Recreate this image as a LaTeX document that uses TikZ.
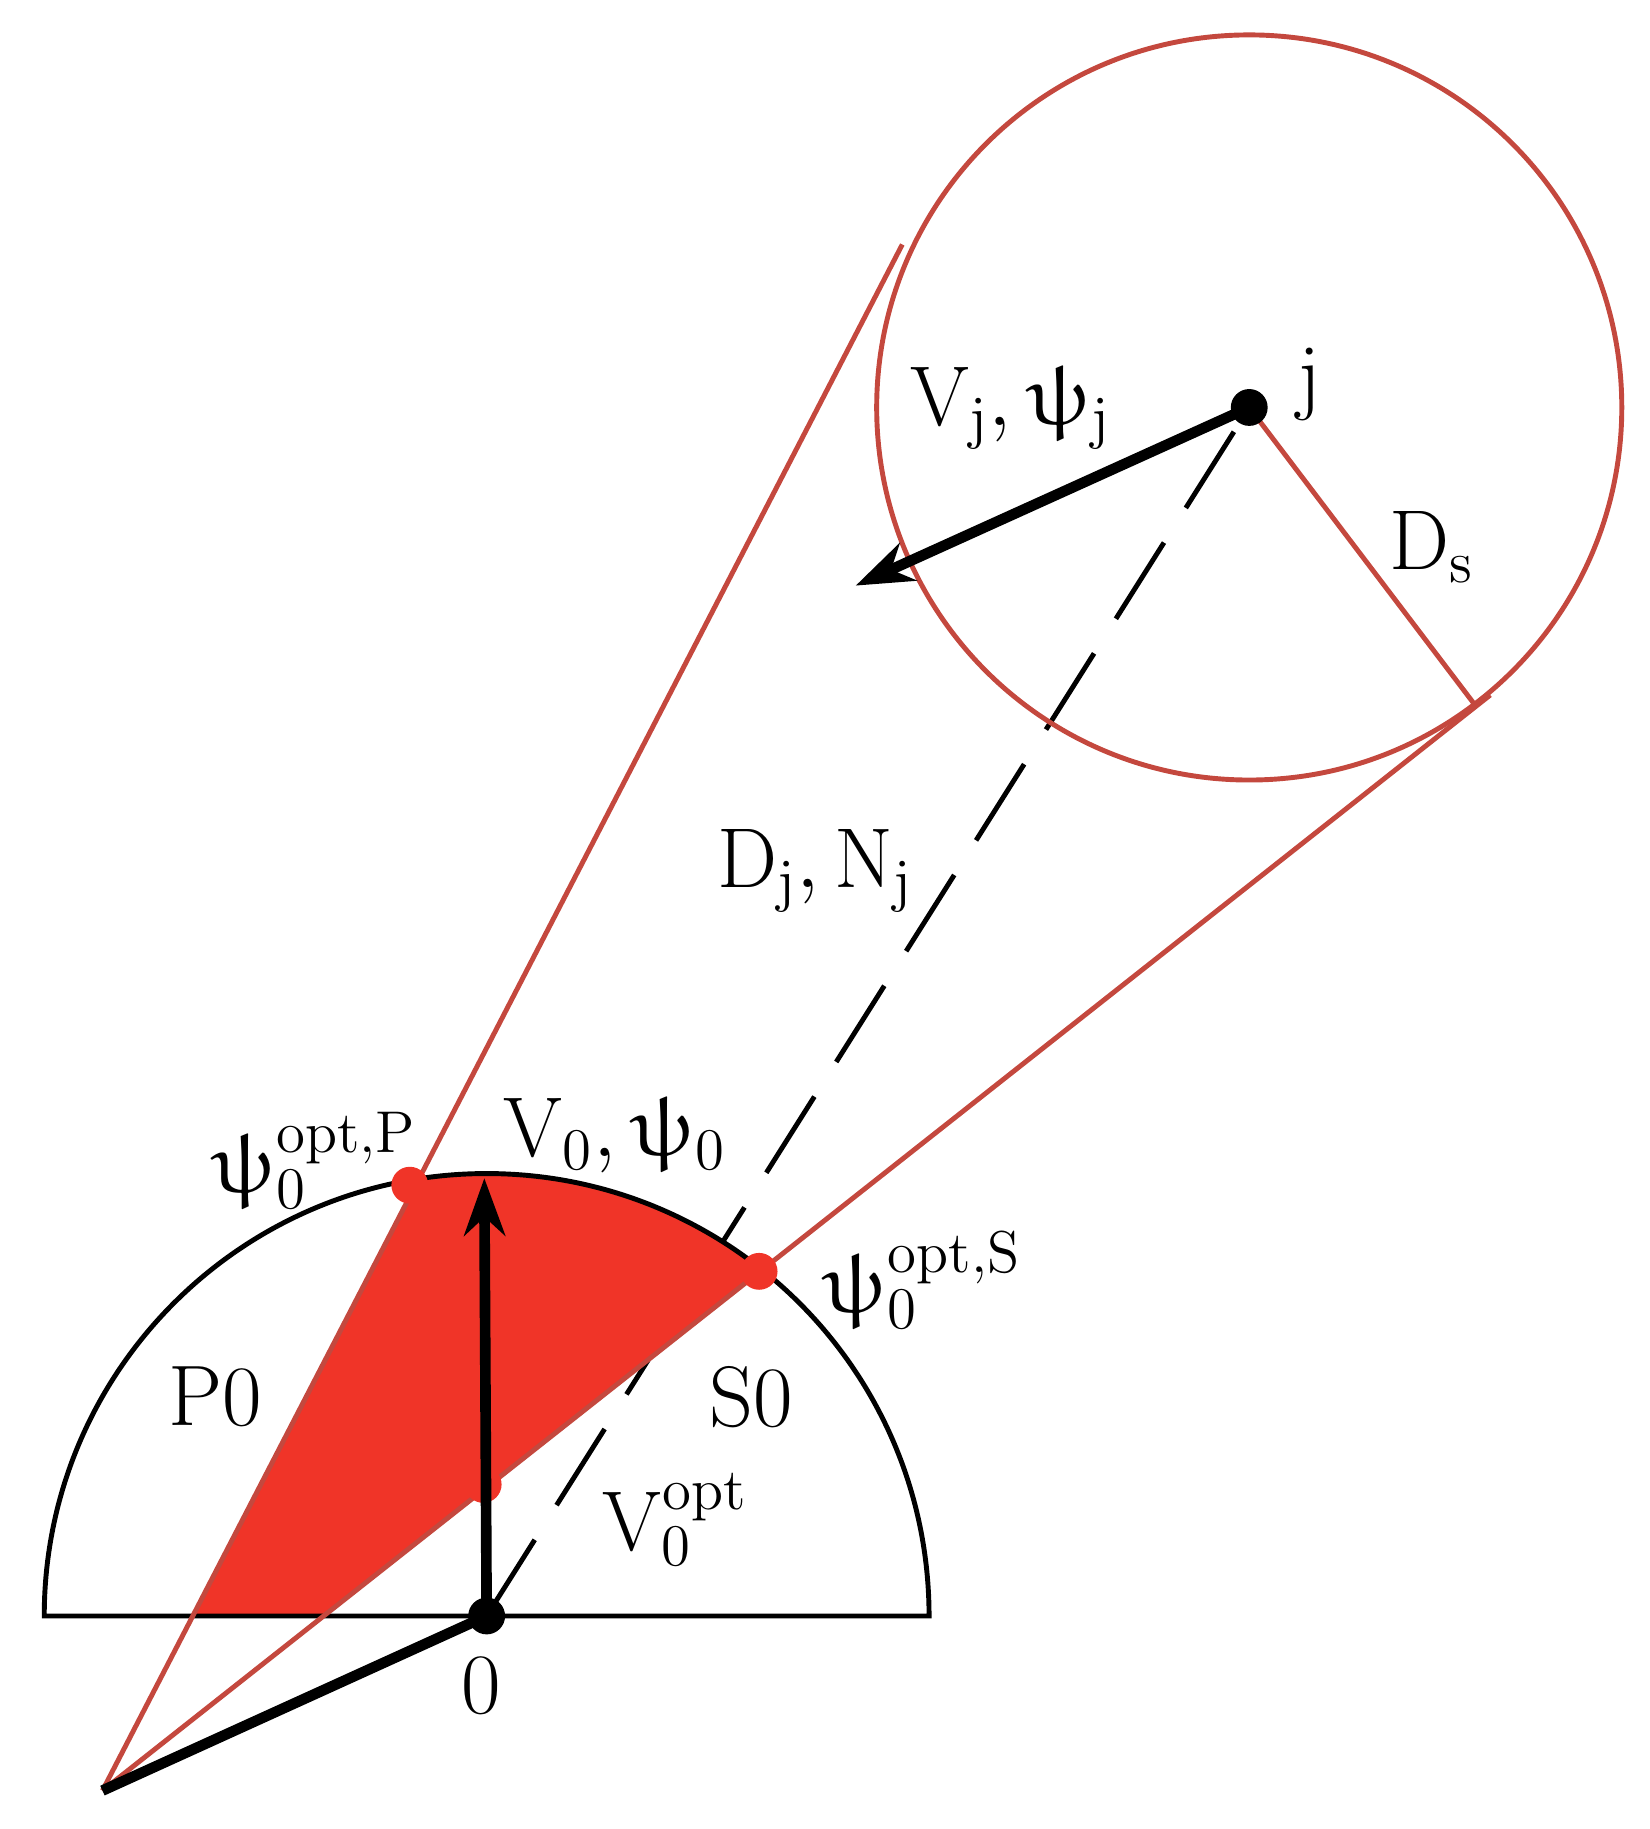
\documentclass[tikz,border=0pt]{standalone}
\usepackage{upgreek}
\usetikzlibrary{arrows.meta}
\definecolor{conered}{RGB}{196,72,62}
\definecolor{fillred}{RGB}{240,52,40}
\begin{document}
\begin{tikzpicture}[
            x=0.01cm, y=-0.01cm,
            font=\fontsize{21}{24}\selectfont,
            cone/.style={draw=conered, line width=1.2pt},
            vec/.style={-{Stealth[length=14pt,width=10pt]}, line width=2.6pt},
            dot/.style={circle, fill, inner sep=0pt, minimum size=9pt},
            lbl/.style={inner sep=0pt}
        ]
        \useasboundingbox (0,0) rectangle (1417,1571);
        \coordinate (O) at (418,1388);
        \coordinate (A) at (88,1538);
        \coordinate (J) at (1073,350);
        \coordinate (P) at (352,1018);
        \coordinate (S) at (652,1092);
        \coordinate (TP) at (775,210);
        \coordinate (TS) at (1268,607);
        \draw[dash pattern=on 22pt off 10pt, line width=1.2pt] (O) -- (J);
        % shaded sector
        \begin{scope}
            \clip (38,1388) arc[start angle=180, end angle=360, radius=380] -- cycle;
            \fill[fillred] (A) -- (TP) -- (TS) -- cycle;
        \end{scope}
        \draw[line width=1.2pt] (38,1388) arc[start angle=180, end angle=360, radius=380] -- cycle;
        \draw[cone] (J) circle[radius=320];
        \draw[cone] (A) -- (TP);
        \draw[cone] (A) -- (1280,597);
        \draw[cone] (J) -- (TS);
        \draw[line width=2.6pt] (O) -- (A);
        \node[dot, fill=fillred] (vopt) at (415,1275) {};
        \draw[vec] (O) -- (416,1012);
        \draw[vec] (J) -- (735,503);
        \node[dot, fill=fillred] (pp) at (P) {};
        \node[dot, fill=fillred] (ss) at (S) {};
        \node[dot] (o) at (O) {};
        \node[dot] (j) at (J) {};
        % labels
        \node[lbl] at (868,350) {$\mathrm{V_j},\uppsi_\mathrm{j}$};
        \node[lbl] at (1125,330) {j};
        \node[lbl] at (1230,470) {$\mathrm{D_s}$};
        \node[lbl] at (700,748) {$\mathrm{D_j},\mathrm{N_j}$};
        \node[lbl] at (270,997) {$\uppsi_0^\mathrm{opt,P}$};
        \node[lbl] at (528,975) {$\mathrm{V}_0,\uppsi_0$};
        \node[lbl] at (792,1100) {$\uppsi_0^\mathrm{opt,S}$};
        \node[lbl] at (185,1200) {P0};
        \node[lbl] at (645,1200) {S0};
        \node[lbl] at (580,1305) {$\mathrm{V}_0^\mathrm{opt}$};
        \node[lbl] at (413,1448) {0};
\end{tikzpicture}
\end{document}
